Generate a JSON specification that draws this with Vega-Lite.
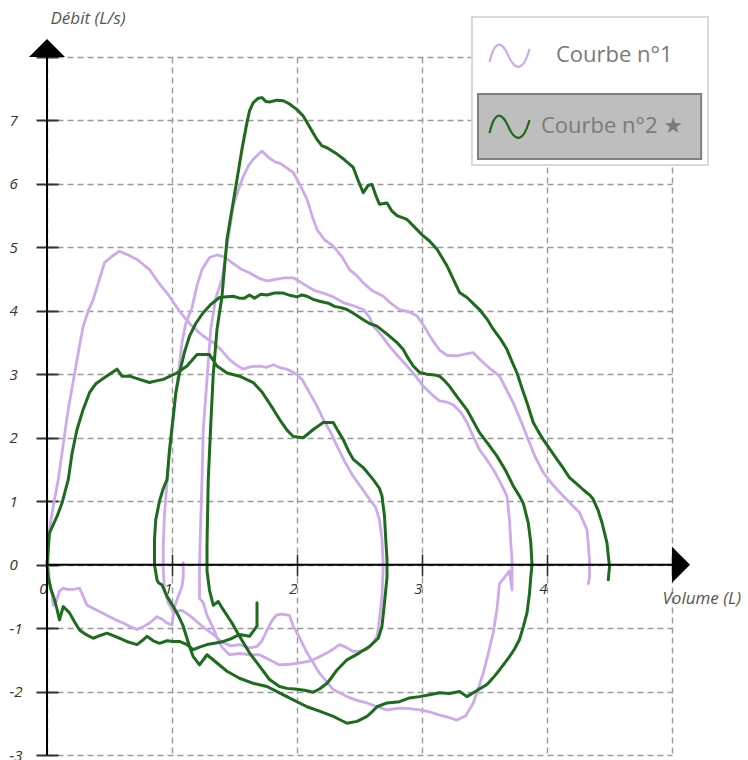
{
  "$schema": "https://vega.github.io/schema/vega-lite/v6.json",
  "width": 625,
  "height": 698,
  "autosize": {"type": "none"},
  "padding": {"left": 47, "top": 57, "right": 76, "bottom": 5},
  "background": "white",
  "config": {"view": {"stroke": null}, "legend": {"strokeWidth": 2}},
  "datasets": {
    "courbe1": [
      {"curve":"Courbe n°1","seg":"a","i":1,"volume":1.09,"debit":0.03},
      {"curve":"Courbe n°1","seg":"a","i":2,"volume":1.09,"debit":-0.2},
      {"curve":"Courbe n°1","seg":"a","i":3,"volume":1.08,"debit":-0.34},
      {"curve":"Courbe n°1","seg":"a","i":4,"volume":1.05,"debit":-0.5},
      {"curve":"Courbe n°1","seg":"a","i":5,"volume":1.02,"debit":-0.66},
      {"curve":"Courbe n°1","seg":"a","i":6,"volume":1.0,"debit":-0.95},
      {"curve":"Courbe n°1","seg":"a","i":7,"volume":0.96,"debit":-0.92},
      {"curve":"Courbe n°1","seg":"a","i":8,"volume":0.92,"debit":-0.86},
      {"curve":"Courbe n°1","seg":"a","i":9,"volume":0.88,"debit":-0.82},
      {"curve":"Courbe n°1","seg":"a","i":10,"volume":0.82,"debit":-0.92},
      {"curve":"Courbe n°1","seg":"a","i":11,"volume":0.77,"debit":-0.98},
      {"curve":"Courbe n°1","seg":"a","i":12,"volume":0.72,"debit":-1.02},
      {"curve":"Courbe n°1","seg":"a","i":13,"volume":0.66,"debit":-0.97},
      {"curve":"Courbe n°1","seg":"a","i":14,"volume":0.61,"debit":-0.92},
      {"curve":"Courbe n°1","seg":"a","i":15,"volume":0.55,"debit":-0.87},
      {"curve":"Courbe n°1","seg":"a","i":16,"volume":0.5,"debit":-0.82},
      {"curve":"Courbe n°1","seg":"a","i":17,"volume":0.45,"debit":-0.77},
      {"curve":"Courbe n°1","seg":"a","i":18,"volume":0.4,"debit":-0.72},
      {"curve":"Courbe n°1","seg":"a","i":19,"volume":0.32,"debit":-0.64},
      {"curve":"Courbe n°1","seg":"a","i":20,"volume":0.29,"debit":-0.5},
      {"curve":"Courbe n°1","seg":"a","i":21,"volume":0.26,"debit":-0.37},
      {"curve":"Courbe n°1","seg":"a","i":22,"volume":0.21,"debit":-0.39},
      {"curve":"Courbe n°1","seg":"a","i":23,"volume":0.16,"debit":-0.39},
      {"curve":"Courbe n°1","seg":"a","i":24,"volume":0.13,"debit":-0.37},
      {"curve":"Courbe n°1","seg":"a","i":25,"volume":0.1,"debit":-0.42},
      {"curve":"Courbe n°1","seg":"a","i":26,"volume":0.07,"debit":-0.6},
      {"curve":"Courbe n°1","seg":"a","i":27,"volume":0.05,"debit":-0.64},
      {"curve":"Courbe n°1","seg":"a","i":28,"volume":0.04,"debit":-0.45},
      {"curve":"Courbe n°1","seg":"a","i":29,"volume":0.02,"debit":-0.25},
      {"curve":"Courbe n°1","seg":"a","i":30,"volume":0.01,"debit":0.0},
      {"curve":"Courbe n°1","seg":"a","i":31,"volume":0.01,"debit":0.45},
      {"curve":"Courbe n°1","seg":"a","i":32,"volume":0.05,"debit":0.92},
      {"curve":"Courbe n°1","seg":"a","i":33,"volume":0.09,"debit":1.34},
      {"curve":"Courbe n°1","seg":"a","i":34,"volume":0.13,"debit":1.9},
      {"curve":"Courbe n°1","seg":"a","i":35,"volume":0.17,"debit":2.45},
      {"curve":"Courbe n°1","seg":"a","i":36,"volume":0.22,"debit":3.0},
      {"curve":"Courbe n°1","seg":"a","i":37,"volume":0.26,"debit":3.45},
      {"curve":"Courbe n°1","seg":"a","i":38,"volume":0.29,"debit":3.76},
      {"curve":"Courbe n°1","seg":"a","i":39,"volume":0.33,"debit":4.0},
      {"curve":"Courbe n°1","seg":"a","i":40,"volume":0.37,"debit":4.18},
      {"curve":"Courbe n°1","seg":"a","i":41,"volume":0.42,"debit":4.5},
      {"curve":"Courbe n°1","seg":"a","i":42,"volume":0.46,"debit":4.76},
      {"curve":"Courbe n°1","seg":"a","i":43,"volume":0.52,"debit":4.86},
      {"curve":"Courbe n°1","seg":"a","i":44,"volume":0.58,"debit":4.94},
      {"curve":"Courbe n°1","seg":"a","i":45,"volume":0.65,"debit":4.88},
      {"curve":"Courbe n°1","seg":"a","i":46,"volume":0.72,"debit":4.81},
      {"curve":"Courbe n°1","seg":"a","i":47,"volume":0.77,"debit":4.73},
      {"curve":"Courbe n°1","seg":"a","i":48,"volume":0.82,"debit":4.65},
      {"curve":"Courbe n°1","seg":"a","i":49,"volume":0.89,"debit":4.45},
      {"curve":"Courbe n°1","seg":"a","i":50,"volume":0.96,"debit":4.28},
      {"curve":"Courbe n°1","seg":"a","i":51,"volume":1.03,"debit":4.08},
      {"curve":"Courbe n°1","seg":"a","i":52,"volume":1.09,"debit":3.92},
      {"curve":"Courbe n°1","seg":"a","i":53,"volume":1.15,"debit":3.78},
      {"curve":"Courbe n°1","seg":"a","i":54,"volume":1.22,"debit":3.65},
      {"curve":"Courbe n°1","seg":"a","i":55,"volume":1.28,"debit":3.56},
      {"curve":"Courbe n°1","seg":"a","i":56,"volume":1.33,"debit":3.5},
      {"curve":"Courbe n°1","seg":"a","i":57,"volume":1.4,"debit":3.37},
      {"curve":"Courbe n°1","seg":"a","i":58,"volume":1.46,"debit":3.23},
      {"curve":"Courbe n°1","seg":"a","i":59,"volume":1.52,"debit":3.14},
      {"curve":"Courbe n°1","seg":"a","i":60,"volume":1.57,"debit":3.08},
      {"curve":"Courbe n°1","seg":"a","i":61,"volume":1.63,"debit":3.12},
      {"curve":"Courbe n°1","seg":"a","i":62,"volume":1.7,"debit":3.13},
      {"curve":"Courbe n°1","seg":"a","i":63,"volume":1.76,"debit":3.11},
      {"curve":"Courbe n°1","seg":"a","i":64,"volume":1.81,"debit":3.15},
      {"curve":"Courbe n°1","seg":"a","i":65,"volume":1.87,"debit":3.1},
      {"curve":"Courbe n°1","seg":"a","i":66,"volume":1.92,"debit":3.08},
      {"curve":"Courbe n°1","seg":"a","i":67,"volume":1.98,"debit":3.02},
      {"curve":"Courbe n°1","seg":"a","i":68,"volume":2.04,"debit":2.92},
      {"curve":"Courbe n°1","seg":"a","i":69,"volume":2.1,"debit":2.71},
      {"curve":"Courbe n°1","seg":"a","i":70,"volume":2.16,"debit":2.5},
      {"curve":"Courbe n°1","seg":"a","i":71,"volume":2.21,"debit":2.29},
      {"curve":"Courbe n°1","seg":"a","i":72,"volume":2.27,"debit":2.08},
      {"curve":"Courbe n°1","seg":"a","i":73,"volume":2.32,"debit":1.87},
      {"curve":"Courbe n°1","seg":"a","i":74,"volume":2.38,"debit":1.63},
      {"curve":"Courbe n°1","seg":"a","i":75,"volume":2.45,"debit":1.39},
      {"curve":"Courbe n°1","seg":"a","i":76,"volume":2.52,"debit":1.2},
      {"curve":"Courbe n°1","seg":"a","i":77,"volume":2.58,"debit":1.03},
      {"curve":"Courbe n°1","seg":"a","i":78,"volume":2.63,"debit":0.9},
      {"curve":"Courbe n°1","seg":"a","i":79,"volume":2.66,"debit":0.7},
      {"curve":"Courbe n°1","seg":"a","i":80,"volume":2.68,"debit":0.4},
      {"curve":"Courbe n°1","seg":"a","i":81,"volume":2.69,"debit":0.0},
      {"curve":"Courbe n°1","seg":"a","i":82,"volume":2.68,"debit":-0.5},
      {"curve":"Courbe n°1","seg":"a","i":83,"volume":2.66,"debit":-0.85},
      {"curve":"Courbe n°1","seg":"a","i":84,"volume":2.64,"debit":-1.13},
      {"curve":"Courbe n°1","seg":"a","i":85,"volume":2.6,"debit":-1.25},
      {"curve":"Courbe n°1","seg":"a","i":86,"volume":2.56,"debit":-1.34},
      {"curve":"Courbe n°1","seg":"a","i":87,"volume":2.5,"debit":-1.36},
      {"curve":"Courbe n°1","seg":"a","i":88,"volume":2.45,"debit":-1.37},
      {"curve":"Courbe n°1","seg":"a","i":89,"volume":2.39,"debit":-1.3},
      {"curve":"Courbe n°1","seg":"a","i":90,"volume":2.34,"debit":-1.26},
      {"curve":"Courbe n°1","seg":"a","i":91,"volume":2.29,"debit":-1.33},
      {"curve":"Courbe n°1","seg":"a","i":92,"volume":2.24,"debit":-1.39},
      {"curve":"Courbe n°1","seg":"a","i":93,"volume":2.18,"debit":-1.45},
      {"curve":"Courbe n°1","seg":"a","i":94,"volume":2.13,"debit":-1.5},
      {"curve":"Courbe n°1","seg":"a","i":95,"volume":2.08,"debit":-1.53},
      {"curve":"Courbe n°1","seg":"a","i":96,"volume":2.02,"debit":-1.55},
      {"curve":"Courbe n°1","seg":"a","i":97,"volume":1.94,"debit":-1.57},
      {"curve":"Courbe n°1","seg":"a","i":98,"volume":1.86,"debit":-1.58},
      {"curve":"Courbe n°1","seg":"a","i":99,"volume":1.78,"debit":-1.5},
      {"curve":"Courbe n°1","seg":"a","i":100,"volume":1.7,"debit":-1.42},
      {"curve":"Courbe n°1","seg":"a","i":101,"volume":1.62,"debit":-1.42},
      {"curve":"Courbe n°1","seg":"a","i":102,"volume":1.54,"debit":-1.4},
      {"curve":"Courbe n°1","seg":"a","i":103,"volume":1.46,"debit":-1.42},
      {"curve":"Courbe n°1","seg":"a","i":104,"volume":1.4,"debit":-1.3},
      {"curve":"Courbe n°1","seg":"a","i":105,"volume":1.36,"debit":-1.15},
      {"curve":"Courbe n°1","seg":"a","i":106,"volume":1.33,"debit":-1.0},
      {"curve":"Courbe n°1","seg":"a","i":107,"volume":1.28,"debit":-0.8},
      {"curve":"Courbe n°1","seg":"a","i":108,"volume":1.25,"debit":-0.6},
      {"curve":"Courbe n°1","seg":"a","i":109,"volume":1.22,"debit":-0.53},
      {"curve":"Courbe n°1","seg":"a","i":110,"volume":1.22,"debit":0.0},
      {"curve":"Courbe n°1","seg":"a","i":111,"volume":1.23,"debit":0.7},
      {"curve":"Courbe n°1","seg":"a","i":112,"volume":1.24,"debit":1.34},
      {"curve":"Courbe n°1","seg":"a","i":113,"volume":1.25,"debit":2.13},
      {"curve":"Courbe n°1","seg":"a","i":114,"volume":1.28,"debit":2.92},
      {"curve":"Courbe n°1","seg":"a","i":115,"volume":1.31,"debit":3.71},
      {"curve":"Courbe n°1","seg":"a","i":116,"volume":1.35,"debit":4.2},
      {"curve":"Courbe n°1","seg":"a","i":117,"volume":1.4,"debit":4.5},
      {"curve":"Courbe n°1","seg":"a","i":118,"volume":1.44,"debit":5.02},
      {"curve":"Courbe n°1","seg":"a","i":119,"volume":1.49,"debit":5.65},
      {"curve":"Courbe n°1","seg":"a","i":120,"volume":1.53,"debit":5.9},
      {"curve":"Courbe n°1","seg":"a","i":121,"volume":1.57,"debit":6.12},
      {"curve":"Courbe n°1","seg":"a","i":122,"volume":1.61,"debit":6.28},
      {"curve":"Courbe n°1","seg":"a","i":123,"volume":1.65,"debit":6.39},
      {"curve":"Courbe n°1","seg":"a","i":124,"volume":1.72,"debit":6.52},
      {"curve":"Courbe n°1","seg":"a","i":125,"volume":1.77,"debit":6.42},
      {"curve":"Courbe n°1","seg":"a","i":126,"volume":1.82,"debit":6.35},
      {"curve":"Courbe n°1","seg":"a","i":127,"volume":1.87,"debit":6.32},
      {"curve":"Courbe n°1","seg":"a","i":128,"volume":1.92,"debit":6.25},
      {"curve":"Courbe n°1","seg":"a","i":129,"volume":1.97,"debit":6.18},
      {"curve":"Courbe n°1","seg":"a","i":130,"volume":2.02,"debit":6.0},
      {"curve":"Courbe n°1","seg":"a","i":131,"volume":2.08,"debit":5.76},
      {"curve":"Courbe n°1","seg":"a","i":132,"volume":2.12,"debit":5.5},
      {"curve":"Courbe n°1","seg":"a","i":133,"volume":2.16,"debit":5.28},
      {"curve":"Courbe n°1","seg":"a","i":134,"volume":2.22,"debit":5.12},
      {"curve":"Courbe n°1","seg":"a","i":135,"volume":2.29,"debit":5.02},
      {"curve":"Courbe n°1","seg":"a","i":136,"volume":2.36,"debit":4.85},
      {"curve":"Courbe n°1","seg":"a","i":137,"volume":2.42,"debit":4.65},
      {"curve":"Courbe n°1","seg":"a","i":138,"volume":2.48,"debit":4.55},
      {"curve":"Courbe n°1","seg":"a","i":139,"volume":2.53,"debit":4.44},
      {"curve":"Courbe n°1","seg":"a","i":140,"volume":2.6,"debit":4.32},
      {"curve":"Courbe n°1","seg":"a","i":141,"volume":2.69,"debit":4.23},
      {"curve":"Courbe n°1","seg":"a","i":142,"volume":2.75,"debit":4.12},
      {"curve":"Courbe n°1","seg":"a","i":143,"volume":2.82,"debit":4.02},
      {"curve":"Courbe n°1","seg":"a","i":144,"volume":2.9,"debit":3.98},
      {"curve":"Courbe n°1","seg":"a","i":145,"volume":2.96,"debit":3.92},
      {"curve":"Courbe n°1","seg":"a","i":146,"volume":3.02,"debit":3.75},
      {"curve":"Courbe n°1","seg":"a","i":147,"volume":3.08,"debit":3.55},
      {"curve":"Courbe n°1","seg":"a","i":148,"volume":3.14,"debit":3.38},
      {"curve":"Courbe n°1","seg":"a","i":149,"volume":3.2,"debit":3.3},
      {"curve":"Courbe n°1","seg":"a","i":150,"volume":3.28,"debit":3.29},
      {"curve":"Courbe n°1","seg":"a","i":151,"volume":3.35,"debit":3.32},
      {"curve":"Courbe n°1","seg":"a","i":152,"volume":3.41,"debit":3.34},
      {"curve":"Courbe n°1","seg":"a","i":153,"volume":3.47,"debit":3.22},
      {"curve":"Courbe n°1","seg":"a","i":154,"volume":3.52,"debit":3.13},
      {"curve":"Courbe n°1","seg":"a","i":155,"volume":3.57,"debit":3.05},
      {"curve":"Courbe n°1","seg":"a","i":156,"volume":3.62,"debit":2.97},
      {"curve":"Courbe n°1","seg":"a","i":157,"volume":3.67,"debit":2.78},
      {"curve":"Courbe n°1","seg":"a","i":158,"volume":3.73,"debit":2.55},
      {"curve":"Courbe n°1","seg":"a","i":159,"volume":3.79,"debit":2.27},
      {"curve":"Courbe n°1","seg":"a","i":160,"volume":3.84,"debit":2.02},
      {"curve":"Courbe n°1","seg":"a","i":161,"volume":3.9,"debit":1.72},
      {"curve":"Courbe n°1","seg":"a","i":162,"volume":3.97,"debit":1.45},
      {"curve":"Courbe n°1","seg":"a","i":163,"volume":4.05,"debit":1.25},
      {"curve":"Courbe n°1","seg":"a","i":164,"volume":4.13,"debit":1.08},
      {"curve":"Courbe n°1","seg":"a","i":165,"volume":4.2,"debit":0.94},
      {"curve":"Courbe n°1","seg":"a","i":166,"volume":4.26,"debit":0.82},
      {"curve":"Courbe n°1","seg":"a","i":167,"volume":4.32,"debit":0.55},
      {"curve":"Courbe n°1","seg":"a","i":168,"volume":4.34,"debit":0.08},
      {"curve":"Courbe n°1","seg":"a","i":169,"volume":4.34,"debit":-0.2},
      {"curve":"Courbe n°1","seg":"a","i":170,"volume":4.33,"debit":-0.3},
      {"curve":"Courbe n°1","seg":"b","i":1,"volume":0.94,"debit":-0.4},
      {"curve":"Courbe n°1","seg":"b","i":2,"volume":0.93,"debit":-0.1},
      {"curve":"Courbe n°1","seg":"b","i":3,"volume":0.93,"debit":0.3},
      {"curve":"Courbe n°1","seg":"b","i":4,"volume":0.94,"debit":0.8},
      {"curve":"Courbe n°1","seg":"b","i":5,"volume":0.96,"debit":1.3},
      {"curve":"Courbe n°1","seg":"b","i":6,"volume":0.98,"debit":1.8},
      {"curve":"Courbe n°1","seg":"b","i":7,"volume":1.01,"debit":2.3},
      {"curve":"Courbe n°1","seg":"b","i":8,"volume":1.03,"debit":2.7},
      {"curve":"Courbe n°1","seg":"b","i":9,"volume":1.05,"debit":3.0},
      {"curve":"Courbe n°1","seg":"b","i":10,"volume":1.08,"debit":3.5},
      {"curve":"Courbe n°1","seg":"b","i":11,"volume":1.11,"debit":3.8},
      {"curve":"Courbe n°1","seg":"b","i":12,"volume":1.16,"debit":4.05},
      {"curve":"Courbe n°1","seg":"b","i":13,"volume":1.2,"debit":4.4},
      {"curve":"Courbe n°1","seg":"b","i":14,"volume":1.24,"debit":4.65},
      {"curve":"Courbe n°1","seg":"b","i":15,"volume":1.3,"debit":4.84},
      {"curve":"Courbe n°1","seg":"b","i":16,"volume":1.36,"debit":4.88},
      {"curve":"Courbe n°1","seg":"b","i":17,"volume":1.42,"debit":4.85},
      {"curve":"Courbe n°1","seg":"b","i":18,"volume":1.48,"debit":4.76},
      {"curve":"Courbe n°1","seg":"b","i":19,"volume":1.55,"debit":4.66},
      {"curve":"Courbe n°1","seg":"b","i":20,"volume":1.62,"debit":4.6},
      {"curve":"Courbe n°1","seg":"b","i":21,"volume":1.69,"debit":4.52},
      {"curve":"Courbe n°1","seg":"b","i":22,"volume":1.76,"debit":4.47},
      {"curve":"Courbe n°1","seg":"b","i":23,"volume":1.84,"debit":4.5},
      {"curve":"Courbe n°1","seg":"b","i":24,"volume":1.9,"debit":4.52},
      {"curve":"Courbe n°1","seg":"b","i":25,"volume":1.97,"debit":4.52},
      {"curve":"Courbe n°1","seg":"b","i":26,"volume":2.03,"debit":4.45},
      {"curve":"Courbe n°1","seg":"b","i":27,"volume":2.08,"debit":4.39},
      {"curve":"Courbe n°1","seg":"b","i":28,"volume":2.14,"debit":4.32},
      {"curve":"Courbe n°1","seg":"b","i":29,"volume":2.21,"debit":4.28},
      {"curve":"Courbe n°1","seg":"b","i":30,"volume":2.29,"debit":4.22},
      {"curve":"Courbe n°1","seg":"b","i":31,"volume":2.37,"debit":4.13},
      {"curve":"Courbe n°1","seg":"b","i":32,"volume":2.45,"debit":4.08},
      {"curve":"Courbe n°1","seg":"b","i":33,"volume":2.53,"debit":4.02},
      {"curve":"Courbe n°1","seg":"b","i":34,"volume":2.58,"debit":3.9},
      {"curve":"Courbe n°1","seg":"b","i":35,"volume":2.61,"debit":3.76},
      {"curve":"Courbe n°1","seg":"b","i":36,"volume":2.68,"debit":3.6},
      {"curve":"Courbe n°1","seg":"b","i":37,"volume":2.74,"debit":3.44},
      {"curve":"Courbe n°1","seg":"b","i":38,"volume":2.81,"debit":3.28},
      {"curve":"Courbe n°1","seg":"b","i":39,"volume":2.88,"debit":3.13},
      {"curve":"Courbe n°1","seg":"b","i":40,"volume":2.95,"debit":2.97},
      {"curve":"Courbe n°1","seg":"b","i":41,"volume":3.01,"debit":2.81},
      {"curve":"Courbe n°1","seg":"b","i":42,"volume":3.08,"debit":2.68},
      {"curve":"Courbe n°1","seg":"b","i":43,"volume":3.14,"debit":2.58},
      {"curve":"Courbe n°1","seg":"b","i":44,"volume":3.2,"debit":2.56},
      {"curve":"Courbe n°1","seg":"b","i":45,"volume":3.25,"debit":2.52},
      {"curve":"Courbe n°1","seg":"b","i":46,"volume":3.31,"debit":2.4},
      {"curve":"Courbe n°1","seg":"b","i":47,"volume":3.36,"debit":2.24},
      {"curve":"Courbe n°1","seg":"b","i":48,"volume":3.41,"debit":2.02},
      {"curve":"Courbe n°1","seg":"b","i":49,"volume":3.46,"debit":1.81},
      {"curve":"Courbe n°1","seg":"b","i":50,"volume":3.52,"debit":1.65},
      {"curve":"Courbe n°1","seg":"b","i":51,"volume":3.57,"debit":1.5},
      {"curve":"Courbe n°1","seg":"b","i":52,"volume":3.63,"debit":1.28},
      {"curve":"Courbe n°1","seg":"b","i":53,"volume":3.68,"debit":1.08},
      {"curve":"Courbe n°1","seg":"b","i":54,"volume":3.7,"debit":0.71},
      {"curve":"Courbe n°1","seg":"b","i":55,"volume":3.71,"debit":0.35},
      {"curve":"Courbe n°1","seg":"b","i":56,"volume":3.72,"debit":0.08},
      {"curve":"Courbe n°1","seg":"b","i":57,"volume":3.72,"debit":-0.4},
      {"curve":"Courbe n°1","seg":"b","i":58,"volume":3.7,"debit":-0.1},
      {"curve":"Courbe n°1","seg":"b","i":59,"volume":3.66,"debit":-0.2},
      {"curve":"Courbe n°1","seg":"b","i":60,"volume":3.62,"debit":-0.3},
      {"curve":"Courbe n°1","seg":"b","i":61,"volume":3.6,"debit":-0.7},
      {"curve":"Courbe n°1","seg":"b","i":62,"volume":3.57,"debit":-1.07},
      {"curve":"Courbe n°1","seg":"b","i":63,"volume":3.53,"debit":-1.4},
      {"curve":"Courbe n°1","seg":"b","i":64,"volume":3.49,"debit":-1.71},
      {"curve":"Courbe n°1","seg":"b","i":65,"volume":3.45,"debit":-1.95},
      {"curve":"Courbe n°1","seg":"b","i":66,"volume":3.41,"debit":-2.18},
      {"curve":"Courbe n°1","seg":"b","i":67,"volume":3.35,"debit":-2.38},
      {"curve":"Courbe n°1","seg":"b","i":68,"volume":3.28,"debit":-2.45},
      {"curve":"Courbe n°1","seg":"b","i":69,"volume":3.2,"debit":-2.4},
      {"curve":"Courbe n°1","seg":"b","i":70,"volume":3.14,"debit":-2.37},
      {"curve":"Courbe n°1","seg":"b","i":71,"volume":3.06,"debit":-2.32},
      {"curve":"Courbe n°1","seg":"b","i":72,"volume":2.98,"debit":-2.29},
      {"curve":"Courbe n°1","seg":"b","i":73,"volume":2.9,"debit":-2.27},
      {"curve":"Courbe n°1","seg":"b","i":74,"volume":2.82,"debit":-2.26},
      {"curve":"Courbe n°1","seg":"b","i":75,"volume":2.72,"debit":-2.29},
      {"curve":"Courbe n°1","seg":"b","i":76,"volume":2.64,"debit":-2.24},
      {"curve":"Courbe n°1","seg":"b","i":77,"volume":2.56,"debit":-2.18},
      {"curve":"Courbe n°1","seg":"b","i":78,"volume":2.48,"debit":-2.14},
      {"curve":"Courbe n°1","seg":"b","i":79,"volume":2.4,"debit":-2.08},
      {"curve":"Courbe n°1","seg":"b","i":80,"volume":2.34,"debit":-2.02},
      {"curve":"Courbe n°1","seg":"b","i":81,"volume":2.29,"debit":-1.97},
      {"curve":"Courbe n°1","seg":"b","i":82,"volume":2.24,"debit":-1.85},
      {"curve":"Courbe n°1","seg":"b","i":83,"volume":2.18,"debit":-1.71},
      {"curve":"Courbe n°1","seg":"b","i":84,"volume":2.13,"debit":-1.55},
      {"curve":"Courbe n°1","seg":"b","i":85,"volume":2.08,"debit":-1.39},
      {"curve":"Courbe n°1","seg":"b","i":86,"volume":2.02,"debit":-1.15},
      {"curve":"Courbe n°1","seg":"b","i":87,"volume":1.97,"debit":-0.97},
      {"curve":"Courbe n°1","seg":"b","i":88,"volume":1.94,"debit":-0.8},
      {"curve":"Courbe n°1","seg":"b","i":89,"volume":1.88,"debit":-0.78},
      {"curve":"Courbe n°1","seg":"b","i":90,"volume":1.84,"debit":-0.79},
      {"curve":"Courbe n°1","seg":"b","i":91,"volume":1.8,"debit":-0.88},
      {"curve":"Courbe n°1","seg":"b","i":92,"volume":1.76,"debit":-1.03},
      {"curve":"Courbe n°1","seg":"b","i":93,"volume":1.72,"debit":-1.2},
      {"curve":"Courbe n°1","seg":"b","i":94,"volume":1.68,"debit":-1.29},
      {"curve":"Courbe n°1","seg":"b","i":95,"volume":1.62,"debit":-1.31},
      {"curve":"Courbe n°1","seg":"b","i":96,"volume":1.54,"debit":-1.26},
      {"curve":"Courbe n°1","seg":"b","i":97,"volume":1.47,"debit":-1.28},
      {"curve":"Courbe n°1","seg":"b","i":98,"volume":1.4,"debit":-1.22},
      {"curve":"Courbe n°1","seg":"b","i":99,"volume":1.33,"debit":-1.1},
      {"curve":"Courbe n°1","seg":"b","i":100,"volume":1.26,"debit":-1.0},
      {"curve":"Courbe n°1","seg":"b","i":101,"volume":1.2,"debit":-0.9},
      {"curve":"Courbe n°1","seg":"b","i":102,"volume":1.14,"debit":-0.8},
      {"curve":"Courbe n°1","seg":"b","i":103,"volume":1.08,"debit":-0.72},
      {"curve":"Courbe n°1","seg":"b","i":104,"volume":1.01,"debit":-0.74},
      {"curve":"Courbe n°1","seg":"b","i":105,"volume":0.97,"debit":-0.6},
      {"curve":"Courbe n°1","seg":"b","i":106,"volume":0.94,"debit":-0.4}
    ],
    "courbe2": [
      {"curve":"Courbe n°2","seg":"a","i":1,"volume":1.68,"debit":-0.6},
      {"curve":"Courbe n°2","seg":"a","i":2,"volume":1.68,"debit":-0.8},
      {"curve":"Courbe n°2","seg":"a","i":3,"volume":1.68,"debit":-0.97},
      {"curve":"Courbe n°2","seg":"a","i":4,"volume":1.62,"debit":-1.13},
      {"curve":"Courbe n°2","seg":"a","i":5,"volume":1.54,"debit":-1.1},
      {"curve":"Courbe n°2","seg":"a","i":6,"volume":1.47,"debit":-1.17},
      {"curve":"Courbe n°2","seg":"a","i":7,"volume":1.41,"debit":-1.21},
      {"curve":"Courbe n°2","seg":"a","i":8,"volume":1.34,"debit":-1.24},
      {"curve":"Courbe n°2","seg":"a","i":9,"volume":1.28,"debit":-1.26},
      {"curve":"Courbe n°2","seg":"a","i":10,"volume":1.22,"debit":-1.3},
      {"curve":"Courbe n°2","seg":"a","i":11,"volume":1.17,"debit":-1.34},
      {"curve":"Courbe n°2","seg":"a","i":12,"volume":1.12,"debit":-1.26},
      {"curve":"Courbe n°2","seg":"a","i":13,"volume":1.06,"debit":-1.21},
      {"curve":"Courbe n°2","seg":"a","i":14,"volume":1.01,"debit":-1.21},
      {"curve":"Courbe n°2","seg":"a","i":15,"volume":0.96,"debit":-1.2},
      {"curve":"Courbe n°2","seg":"a","i":16,"volume":0.9,"debit":-1.24},
      {"curve":"Courbe n°2","seg":"a","i":17,"volume":0.85,"debit":-1.2},
      {"curve":"Courbe n°2","seg":"a","i":18,"volume":0.8,"debit":-1.13},
      {"curve":"Courbe n°2","seg":"a","i":19,"volume":0.76,"debit":-1.2},
      {"curve":"Courbe n°2","seg":"a","i":20,"volume":0.72,"debit":-1.26},
      {"curve":"Courbe n°2","seg":"a","i":21,"volume":0.65,"debit":-1.22},
      {"curve":"Courbe n°2","seg":"a","i":22,"volume":0.58,"debit":-1.16},
      {"curve":"Courbe n°2","seg":"a","i":23,"volume":0.53,"debit":-1.12},
      {"curve":"Courbe n°2","seg":"a","i":24,"volume":0.48,"debit":-1.08},
      {"curve":"Courbe n°2","seg":"a","i":25,"volume":0.42,"debit":-1.12},
      {"curve":"Courbe n°2","seg":"a","i":26,"volume":0.37,"debit":-1.16},
      {"curve":"Courbe n°2","seg":"a","i":27,"volume":0.31,"debit":-1.1},
      {"curve":"Courbe n°2","seg":"a","i":28,"volume":0.26,"debit":-1.03},
      {"curve":"Courbe n°2","seg":"a","i":29,"volume":0.22,"debit":-0.9},
      {"curve":"Courbe n°2","seg":"a","i":30,"volume":0.18,"debit":-0.76},
      {"curve":"Courbe n°2","seg":"a","i":31,"volume":0.13,"debit":-0.66},
      {"curve":"Courbe n°2","seg":"a","i":32,"volume":0.1,"debit":-0.87},
      {"curve":"Courbe n°2","seg":"a","i":33,"volume":0.08,"debit":-0.7},
      {"curve":"Courbe n°2","seg":"a","i":34,"volume":0.06,"debit":-0.55},
      {"curve":"Courbe n°2","seg":"a","i":35,"volume":0.03,"debit":-0.38},
      {"curve":"Courbe n°2","seg":"a","i":36,"volume":0.01,"debit":-0.2},
      {"curve":"Courbe n°2","seg":"a","i":37,"volume":0.0,"debit":0.0},
      {"curve":"Courbe n°2","seg":"a","i":38,"volume":0.02,"debit":0.5},
      {"curve":"Courbe n°2","seg":"a","i":39,"volume":0.08,"debit":0.76},
      {"curve":"Courbe n°2","seg":"a","i":40,"volume":0.12,"debit":0.97},
      {"curve":"Courbe n°2","seg":"a","i":41,"volume":0.17,"debit":1.34},
      {"curve":"Courbe n°2","seg":"a","i":42,"volume":0.2,"debit":1.75},
      {"curve":"Courbe n°2","seg":"a","i":43,"volume":0.24,"debit":2.13},
      {"curve":"Courbe n°2","seg":"a","i":44,"volume":0.29,"debit":2.45},
      {"curve":"Courbe n°2","seg":"a","i":45,"volume":0.34,"debit":2.71},
      {"curve":"Courbe n°2","seg":"a","i":46,"volume":0.39,"debit":2.85},
      {"curve":"Courbe n°2","seg":"a","i":47,"volume":0.44,"debit":2.92},
      {"curve":"Courbe n°2","seg":"a","i":48,"volume":0.5,"debit":3.0},
      {"curve":"Courbe n°2","seg":"a","i":49,"volume":0.56,"debit":3.08},
      {"curve":"Courbe n°2","seg":"a","i":50,"volume":0.6,"debit":2.97},
      {"curve":"Courbe n°2","seg":"a","i":51,"volume":0.66,"debit":2.97},
      {"curve":"Courbe n°2","seg":"a","i":52,"volume":0.74,"debit":2.92},
      {"curve":"Courbe n°2","seg":"a","i":53,"volume":0.82,"debit":2.87},
      {"curve":"Courbe n°2","seg":"a","i":54,"volume":0.88,"debit":2.9},
      {"curve":"Courbe n°2","seg":"a","i":55,"volume":0.93,"debit":2.92},
      {"curve":"Courbe n°2","seg":"a","i":56,"volume":1.04,"debit":3.02},
      {"curve":"Courbe n°2","seg":"a","i":57,"volume":1.12,"debit":3.13},
      {"curve":"Courbe n°2","seg":"a","i":58,"volume":1.2,"debit":3.31},
      {"curve":"Courbe n°2","seg":"a","i":59,"volume":1.3,"debit":3.31},
      {"curve":"Courbe n°2","seg":"a","i":60,"volume":1.36,"debit":3.13},
      {"curve":"Courbe n°2","seg":"a","i":61,"volume":1.44,"debit":3.02},
      {"curve":"Courbe n°2","seg":"a","i":62,"volume":1.54,"debit":2.97},
      {"curve":"Courbe n°2","seg":"a","i":63,"volume":1.65,"debit":2.87},
      {"curve":"Courbe n°2","seg":"a","i":64,"volume":1.72,"debit":2.72},
      {"curve":"Courbe n°2","seg":"a","i":65,"volume":1.76,"debit":2.6},
      {"curve":"Courbe n°2","seg":"a","i":66,"volume":1.81,"debit":2.45},
      {"curve":"Courbe n°2","seg":"a","i":67,"volume":1.86,"debit":2.29},
      {"curve":"Courbe n°2","seg":"a","i":68,"volume":1.92,"debit":2.12},
      {"curve":"Courbe n°2","seg":"a","i":69,"volume":1.97,"debit":2.02},
      {"curve":"Courbe n°2","seg":"a","i":70,"volume":2.05,"debit":2.0},
      {"curve":"Courbe n°2","seg":"a","i":71,"volume":2.13,"debit":2.13},
      {"curve":"Courbe n°2","seg":"a","i":72,"volume":2.21,"debit":2.24},
      {"curve":"Courbe n°2","seg":"a","i":73,"volume":2.29,"debit":2.24},
      {"curve":"Courbe n°2","seg":"a","i":74,"volume":2.33,"debit":2.1},
      {"curve":"Courbe n°2","seg":"a","i":75,"volume":2.37,"debit":1.97},
      {"curve":"Courbe n°2","seg":"a","i":76,"volume":2.41,"debit":1.8},
      {"curve":"Courbe n°2","seg":"a","i":77,"volume":2.45,"debit":1.66},
      {"curve":"Courbe n°2","seg":"a","i":78,"volume":2.53,"debit":1.53},
      {"curve":"Courbe n°2","seg":"a","i":79,"volume":2.61,"debit":1.34},
      {"curve":"Courbe n°2","seg":"a","i":80,"volume":2.66,"debit":1.2},
      {"curve":"Courbe n°2","seg":"a","i":81,"volume":2.68,"debit":1.08},
      {"curve":"Courbe n°2","seg":"a","i":82,"volume":2.7,"debit":0.76},
      {"curve":"Courbe n°2","seg":"a","i":83,"volume":2.71,"debit":0.4},
      {"curve":"Courbe n°2","seg":"a","i":84,"volume":2.72,"debit":0.08},
      {"curve":"Courbe n°2","seg":"a","i":85,"volume":2.72,"debit":-0.2},
      {"curve":"Courbe n°2","seg":"a","i":86,"volume":2.7,"debit":-0.6},
      {"curve":"Courbe n°2","seg":"a","i":87,"volume":2.68,"debit":-0.97},
      {"curve":"Courbe n°2","seg":"a","i":88,"volume":2.65,"debit":-1.16},
      {"curve":"Courbe n°2","seg":"a","i":89,"volume":2.58,"debit":-1.29},
      {"curve":"Courbe n°2","seg":"a","i":90,"volume":2.5,"debit":-1.39},
      {"curve":"Courbe n°2","seg":"a","i":91,"volume":2.4,"debit":-1.5},
      {"curve":"Courbe n°2","seg":"a","i":92,"volume":2.32,"debit":-1.66},
      {"curve":"Courbe n°2","seg":"a","i":93,"volume":2.28,"debit":-1.77},
      {"curve":"Courbe n°2","seg":"a","i":94,"volume":2.24,"debit":-1.87},
      {"curve":"Courbe n°2","seg":"a","i":95,"volume":2.18,"debit":-1.96},
      {"curve":"Courbe n°2","seg":"a","i":96,"volume":2.13,"debit":-2.01},
      {"curve":"Courbe n°2","seg":"a","i":97,"volume":2.06,"debit":-1.98},
      {"curve":"Courbe n°2","seg":"a","i":98,"volume":1.98,"debit":-1.96},
      {"curve":"Courbe n°2","seg":"a","i":99,"volume":1.92,"debit":-1.95},
      {"curve":"Courbe n°2","seg":"a","i":100,"volume":1.86,"debit":-1.92},
      {"curve":"Courbe n°2","seg":"a","i":101,"volume":1.78,"debit":-1.81},
      {"curve":"Courbe n°2","seg":"a","i":102,"volume":1.7,"debit":-1.6},
      {"curve":"Courbe n°2","seg":"a","i":103,"volume":1.62,"debit":-1.39},
      {"curve":"Courbe n°2","seg":"a","i":104,"volume":1.54,"debit":-1.13},
      {"curve":"Courbe n°2","seg":"a","i":105,"volume":1.48,"debit":-0.92},
      {"curve":"Courbe n°2","seg":"a","i":106,"volume":1.41,"debit":-0.71},
      {"curve":"Courbe n°2","seg":"a","i":107,"volume":1.37,"debit":-0.58},
      {"curve":"Courbe n°2","seg":"a","i":108,"volume":1.33,"debit":-0.64},
      {"curve":"Courbe n°2","seg":"a","i":109,"volume":1.3,"debit":-0.4},
      {"curve":"Courbe n°2","seg":"a","i":110,"volume":1.28,"debit":-0.1},
      {"curve":"Courbe n°2","seg":"a","i":111,"volume":1.28,"debit":0.3},
      {"curve":"Courbe n°2","seg":"a","i":112,"volume":1.29,"debit":1.34},
      {"curve":"Courbe n°2","seg":"a","i":113,"volume":1.31,"debit":2.2},
      {"curve":"Courbe n°2","seg":"a","i":114,"volume":1.33,"debit":3.0},
      {"curve":"Courbe n°2","seg":"a","i":115,"volume":1.36,"debit":3.71},
      {"curve":"Courbe n°2","seg":"a","i":116,"volume":1.4,"debit":4.23},
      {"curve":"Courbe n°2","seg":"a","i":117,"volume":1.44,"debit":5.13},
      {"curve":"Courbe n°2","seg":"a","i":118,"volume":1.48,"debit":5.6},
      {"curve":"Courbe n°2","seg":"a","i":119,"volume":1.52,"debit":6.07},
      {"curve":"Courbe n°2","seg":"a","i":120,"volume":1.56,"debit":6.55},
      {"curve":"Courbe n°2","seg":"a","i":121,"volume":1.6,"debit":6.97},
      {"curve":"Courbe n°2","seg":"a","i":122,"volume":1.62,"debit":7.15},
      {"curve":"Courbe n°2","seg":"a","i":123,"volume":1.65,"debit":7.28},
      {"curve":"Courbe n°2","seg":"a","i":124,"volume":1.69,"debit":7.35},
      {"curve":"Courbe n°2","seg":"a","i":125,"volume":1.72,"debit":7.36},
      {"curve":"Courbe n°2","seg":"a","i":126,"volume":1.75,"debit":7.3},
      {"curve":"Courbe n°2","seg":"a","i":127,"volume":1.78,"debit":7.29},
      {"curve":"Courbe n°2","seg":"a","i":128,"volume":1.84,"debit":7.32},
      {"curve":"Courbe n°2","seg":"a","i":129,"volume":1.89,"debit":7.31},
      {"curve":"Courbe n°2","seg":"a","i":130,"volume":1.94,"debit":7.26},
      {"curve":"Courbe n°2","seg":"a","i":131,"volume":2.0,"debit":7.17},
      {"curve":"Courbe n°2","seg":"a","i":132,"volume":2.05,"debit":7.07},
      {"curve":"Courbe n°2","seg":"a","i":133,"volume":2.1,"debit":6.9},
      {"curve":"Courbe n°2","seg":"a","i":134,"volume":2.16,"debit":6.7},
      {"curve":"Courbe n°2","seg":"a","i":135,"volume":2.2,"debit":6.6},
      {"curve":"Courbe n°2","seg":"a","i":136,"volume":2.24,"debit":6.57},
      {"curve":"Courbe n°2","seg":"a","i":137,"volume":2.32,"debit":6.47},
      {"curve":"Courbe n°2","seg":"a","i":138,"volume":2.38,"debit":6.38},
      {"curve":"Courbe n°2","seg":"a","i":139,"volume":2.45,"debit":6.26},
      {"curve":"Courbe n°2","seg":"a","i":140,"volume":2.49,"debit":6.05},
      {"curve":"Courbe n°2","seg":"a","i":141,"volume":2.53,"debit":5.86},
      {"curve":"Courbe n°2","seg":"a","i":142,"volume":2.57,"debit":5.98},
      {"curve":"Courbe n°2","seg":"a","i":143,"volume":2.6,"debit":5.99},
      {"curve":"Courbe n°2","seg":"a","i":144,"volume":2.63,"debit":5.82},
      {"curve":"Courbe n°2","seg":"a","i":145,"volume":2.66,"debit":5.68},
      {"curve":"Courbe n°2","seg":"a","i":146,"volume":2.72,"debit":5.7},
      {"curve":"Courbe n°2","seg":"a","i":147,"volume":2.76,"debit":5.57},
      {"curve":"Courbe n°2","seg":"a","i":148,"volume":2.8,"debit":5.5},
      {"curve":"Courbe n°2","seg":"a","i":149,"volume":2.88,"debit":5.44},
      {"curve":"Courbe n°2","seg":"a","i":150,"volume":2.95,"debit":5.3},
      {"curve":"Courbe n°2","seg":"a","i":151,"volume":3.01,"debit":5.18},
      {"curve":"Courbe n°2","seg":"a","i":152,"volume":3.06,"debit":5.1},
      {"curve":"Courbe n°2","seg":"a","i":153,"volume":3.12,"debit":4.97},
      {"curve":"Courbe n°2","seg":"a","i":154,"volume":3.2,"debit":4.71},
      {"curve":"Courbe n°2","seg":"a","i":155,"volume":3.25,"debit":4.5},
      {"curve":"Courbe n°2","seg":"a","i":156,"volume":3.3,"debit":4.29},
      {"curve":"Courbe n°2","seg":"a","i":157,"volume":3.36,"debit":4.21},
      {"curve":"Courbe n°2","seg":"a","i":158,"volume":3.46,"debit":4.02},
      {"curve":"Courbe n°2","seg":"a","i":159,"volume":3.52,"debit":3.87},
      {"curve":"Courbe n°2","seg":"a","i":160,"volume":3.57,"debit":3.71},
      {"curve":"Courbe n°2","seg":"a","i":161,"volume":3.63,"debit":3.55},
      {"curve":"Courbe n°2","seg":"a","i":162,"volume":3.68,"debit":3.39},
      {"curve":"Courbe n°2","seg":"a","i":163,"volume":3.72,"debit":3.2},
      {"curve":"Courbe n°2","seg":"a","i":164,"volume":3.76,"debit":3.02},
      {"curve":"Courbe n°2","seg":"a","i":165,"volume":3.8,"debit":2.78},
      {"curve":"Courbe n°2","seg":"a","i":166,"volume":3.84,"debit":2.55},
      {"curve":"Courbe n°2","seg":"a","i":167,"volume":3.89,"debit":2.24},
      {"curve":"Courbe n°2","seg":"a","i":168,"volume":3.93,"debit":2.1},
      {"curve":"Courbe n°2","seg":"a","i":169,"volume":3.97,"debit":1.97},
      {"curve":"Courbe n°2","seg":"a","i":170,"volume":4.03,"debit":1.8},
      {"curve":"Courbe n°2","seg":"a","i":171,"volume":4.08,"debit":1.66},
      {"curve":"Courbe n°2","seg":"a","i":172,"volume":4.13,"debit":1.52},
      {"curve":"Courbe n°2","seg":"a","i":173,"volume":4.18,"debit":1.37},
      {"curve":"Courbe n°2","seg":"a","i":174,"volume":4.24,"debit":1.27},
      {"curve":"Courbe n°2","seg":"a","i":175,"volume":4.29,"debit":1.18},
      {"curve":"Courbe n°2","seg":"a","i":176,"volume":4.34,"debit":1.1},
      {"curve":"Courbe n°2","seg":"a","i":177,"volume":4.37,"debit":1.03},
      {"curve":"Courbe n°2","seg":"a","i":178,"volume":4.41,"debit":0.85},
      {"curve":"Courbe n°2","seg":"a","i":179,"volume":4.44,"debit":0.66},
      {"curve":"Courbe n°2","seg":"a","i":180,"volume":4.46,"debit":0.5},
      {"curve":"Courbe n°2","seg":"a","i":181,"volume":4.48,"debit":0.34},
      {"curve":"Courbe n°2","seg":"a","i":182,"volume":4.49,"debit":0.15},
      {"curve":"Courbe n°2","seg":"a","i":183,"volume":4.5,"debit":-0.03},
      {"curve":"Courbe n°2","seg":"a","i":184,"volume":4.49,"debit":-0.24},
      {"curve":"Courbe n°2","seg":"b","i":1,"volume":0.86,"debit":0.0},
      {"curve":"Courbe n°2","seg":"b","i":2,"volume":0.86,"debit":0.4},
      {"curve":"Courbe n°2","seg":"b","i":3,"volume":0.87,"debit":0.71},
      {"curve":"Courbe n°2","seg":"b","i":4,"volume":0.9,"debit":1.0},
      {"curve":"Courbe n°2","seg":"b","i":5,"volume":0.93,"debit":1.2},
      {"curve":"Courbe n°2","seg":"b","i":6,"volume":0.96,"debit":1.34},
      {"curve":"Courbe n°2","seg":"b","i":7,"volume":0.98,"debit":1.8},
      {"curve":"Courbe n°2","seg":"b","i":8,"volume":1.01,"debit":2.34},
      {"curve":"Courbe n°2","seg":"b","i":9,"volume":1.03,"debit":2.7},
      {"curve":"Courbe n°2","seg":"b","i":10,"volume":1.06,"debit":3.02},
      {"curve":"Courbe n°2","seg":"b","i":11,"volume":1.1,"debit":3.35},
      {"curve":"Courbe n°2","seg":"b","i":12,"volume":1.14,"debit":3.6},
      {"curve":"Courbe n°2","seg":"b","i":13,"volume":1.19,"debit":3.8},
      {"curve":"Courbe n°2","seg":"b","i":14,"volume":1.25,"debit":3.97},
      {"curve":"Courbe n°2","seg":"b","i":15,"volume":1.31,"debit":4.1},
      {"curve":"Courbe n°2","seg":"b","i":16,"volume":1.38,"debit":4.21},
      {"curve":"Courbe n°2","seg":"b","i":17,"volume":1.44,"debit":4.22},
      {"curve":"Courbe n°2","seg":"b","i":18,"volume":1.49,"debit":4.23},
      {"curve":"Courbe n°2","seg":"b","i":19,"volume":1.54,"debit":4.2},
      {"curve":"Courbe n°2","seg":"b","i":20,"volume":1.58,"debit":4.2},
      {"curve":"Courbe n°2","seg":"b","i":21,"volume":1.62,"debit":4.25},
      {"curve":"Courbe n°2","seg":"b","i":22,"volume":1.66,"debit":4.2},
      {"curve":"Courbe n°2","seg":"b","i":23,"volume":1.71,"debit":4.26},
      {"curve":"Courbe n°2","seg":"b","i":24,"volume":1.76,"debit":4.25},
      {"curve":"Courbe n°2","seg":"b","i":25,"volume":1.82,"debit":4.28},
      {"curve":"Courbe n°2","seg":"b","i":26,"volume":1.89,"debit":4.28},
      {"curve":"Courbe n°2","seg":"b","i":27,"volume":1.95,"debit":4.24},
      {"curve":"Courbe n°2","seg":"b","i":28,"volume":2.0,"debit":4.22},
      {"curve":"Courbe n°2","seg":"b","i":29,"volume":2.04,"debit":4.25},
      {"curve":"Courbe n°2","seg":"b","i":30,"volume":2.08,"debit":4.23},
      {"curve":"Courbe n°2","seg":"b","i":31,"volume":2.13,"debit":4.18},
      {"curve":"Courbe n°2","seg":"b","i":32,"volume":2.18,"debit":4.15},
      {"curve":"Courbe n°2","seg":"b","i":33,"volume":2.25,"debit":4.12},
      {"curve":"Courbe n°2","seg":"b","i":34,"volume":2.3,"debit":4.07},
      {"curve":"Courbe n°2","seg":"b","i":35,"volume":2.35,"debit":4.05},
      {"curve":"Courbe n°2","seg":"b","i":36,"volume":2.4,"debit":4.02},
      {"curve":"Courbe n°2","seg":"b","i":37,"volume":2.46,"debit":3.95},
      {"curve":"Courbe n°2","seg":"b","i":38,"volume":2.53,"debit":3.86},
      {"curve":"Courbe n°2","seg":"b","i":39,"volume":2.58,"debit":3.8},
      {"curve":"Courbe n°2","seg":"b","i":40,"volume":2.64,"debit":3.76},
      {"curve":"Courbe n°2","seg":"b","i":41,"volume":2.69,"debit":3.68},
      {"curve":"Courbe n°2","seg":"b","i":42,"volume":2.74,"debit":3.6},
      {"curve":"Courbe n°2","seg":"b","i":43,"volume":2.8,"debit":3.5},
      {"curve":"Courbe n°2","seg":"b","i":44,"volume":2.85,"debit":3.39},
      {"curve":"Courbe n°2","seg":"b","i":45,"volume":2.89,"debit":3.25},
      {"curve":"Courbe n°2","seg":"b","i":46,"volume":2.93,"debit":3.13},
      {"curve":"Courbe n°2","seg":"b","i":47,"volume":2.98,"debit":3.03},
      {"curve":"Courbe n°2","seg":"b","i":48,"volume":3.04,"debit":3.0},
      {"curve":"Courbe n°2","seg":"b","i":49,"volume":3.1,"debit":2.99},
      {"curve":"Courbe n°2","seg":"b","i":50,"volume":3.14,"debit":2.97},
      {"curve":"Courbe n°2","seg":"b","i":51,"volume":3.18,"debit":2.9},
      {"curve":"Courbe n°2","seg":"b","i":52,"volume":3.22,"debit":2.81},
      {"curve":"Courbe n°2","seg":"b","i":53,"volume":3.29,"debit":2.62},
      {"curve":"Courbe n°2","seg":"b","i":54,"volume":3.36,"debit":2.44},
      {"curve":"Courbe n°2","seg":"b","i":55,"volume":3.41,"debit":2.26},
      {"curve":"Courbe n°2","seg":"b","i":56,"volume":3.46,"debit":2.08},
      {"curve":"Courbe n°2","seg":"b","i":57,"volume":3.53,"debit":1.9},
      {"curve":"Courbe n°2","seg":"b","i":58,"volume":3.6,"debit":1.71},
      {"curve":"Courbe n°2","seg":"b","i":59,"volume":3.67,"debit":1.48},
      {"curve":"Courbe n°2","seg":"b","i":60,"volume":3.73,"debit":1.24},
      {"curve":"Courbe n°2","seg":"b","i":61,"volume":3.78,"debit":1.08},
      {"curve":"Courbe n°2","seg":"b","i":62,"volume":3.81,"debit":0.97},
      {"curve":"Courbe n°2","seg":"b","i":63,"volume":3.85,"debit":0.66},
      {"curve":"Courbe n°2","seg":"b","i":64,"volume":3.87,"debit":0.35},
      {"curve":"Courbe n°2","seg":"b","i":65,"volume":3.88,"debit":0.0},
      {"curve":"Courbe n°2","seg":"b","i":66,"volume":3.87,"debit":-0.2},
      {"curve":"Courbe n°2","seg":"b","i":67,"volume":3.86,"debit":-0.45},
      {"curve":"Courbe n°2","seg":"b","i":68,"volume":3.84,"debit":-0.76},
      {"curve":"Courbe n°2","seg":"b","i":69,"volume":3.81,"debit":-0.98},
      {"curve":"Courbe n°2","seg":"b","i":70,"volume":3.78,"debit":-1.18},
      {"curve":"Courbe n°2","seg":"b","i":71,"volume":3.74,"debit":-1.33},
      {"curve":"Courbe n°2","seg":"b","i":72,"volume":3.7,"debit":-1.45},
      {"curve":"Courbe n°2","seg":"b","i":73,"volume":3.62,"debit":-1.66},
      {"curve":"Courbe n°2","seg":"b","i":74,"volume":3.57,"debit":-1.78},
      {"curve":"Courbe n°2","seg":"b","i":75,"volume":3.52,"debit":-1.89},
      {"curve":"Courbe n°2","seg":"b","i":76,"volume":3.45,"debit":-1.97},
      {"curve":"Courbe n°2","seg":"b","i":77,"volume":3.41,"debit":-2.02},
      {"curve":"Courbe n°2","seg":"b","i":78,"volume":3.36,"debit":-2.08},
      {"curve":"Courbe n°2","seg":"b","i":79,"volume":3.3,"debit":-2.0},
      {"curve":"Courbe n°2","seg":"b","i":80,"volume":3.22,"debit":-2.03},
      {"curve":"Courbe n°2","seg":"b","i":81,"volume":3.14,"debit":-2.02},
      {"curve":"Courbe n°2","seg":"b","i":82,"volume":3.06,"debit":-2.05},
      {"curve":"Courbe n°2","seg":"b","i":83,"volume":2.98,"debit":-2.08},
      {"curve":"Courbe n°2","seg":"b","i":84,"volume":2.9,"debit":-2.1},
      {"curve":"Courbe n°2","seg":"b","i":85,"volume":2.82,"debit":-2.16},
      {"curve":"Courbe n°2","seg":"b","i":86,"volume":2.72,"debit":-2.18},
      {"curve":"Courbe n°2","seg":"b","i":87,"volume":2.64,"debit":-2.24},
      {"curve":"Courbe n°2","seg":"b","i":88,"volume":2.6,"debit":-2.32},
      {"curve":"Courbe n°2","seg":"b","i":89,"volume":2.56,"debit":-2.39},
      {"curve":"Courbe n°2","seg":"b","i":90,"volume":2.48,"debit":-2.47},
      {"curve":"Courbe n°2","seg":"b","i":91,"volume":2.4,"debit":-2.5},
      {"curve":"Courbe n°2","seg":"b","i":92,"volume":2.34,"debit":-2.44},
      {"curve":"Courbe n°2","seg":"b","i":93,"volume":2.29,"debit":-2.39},
      {"curve":"Courbe n°2","seg":"b","i":94,"volume":2.18,"debit":-2.31},
      {"curve":"Courbe n°2","seg":"b","i":95,"volume":2.08,"debit":-2.24},
      {"curve":"Courbe n°2","seg":"b","i":96,"volume":1.97,"debit":-2.13},
      {"curve":"Courbe n°2","seg":"b","i":97,"volume":1.86,"debit":-2.02},
      {"curve":"Courbe n°2","seg":"b","i":98,"volume":1.76,"debit":-1.92},
      {"curve":"Courbe n°2","seg":"b","i":99,"volume":1.65,"debit":-1.87},
      {"curve":"Courbe n°2","seg":"b","i":100,"volume":1.54,"debit":-1.79},
      {"curve":"Courbe n°2","seg":"b","i":101,"volume":1.44,"debit":-1.68},
      {"curve":"Courbe n°2","seg":"b","i":102,"volume":1.36,"debit":-1.55},
      {"curve":"Courbe n°2","seg":"b","i":103,"volume":1.28,"debit":-1.42},
      {"curve":"Courbe n°2","seg":"b","i":104,"volume":1.22,"debit":-1.58},
      {"curve":"Courbe n°2","seg":"b","i":105,"volume":1.17,"debit":-1.45},
      {"curve":"Courbe n°2","seg":"b","i":106,"volume":1.14,"debit":-1.29},
      {"curve":"Courbe n°2","seg":"b","i":107,"volume":1.09,"debit":-0.97},
      {"curve":"Courbe n°2","seg":"b","i":108,"volume":1.05,"debit":-0.8},
      {"curve":"Courbe n°2","seg":"b","i":109,"volume":1.01,"debit":-0.66},
      {"curve":"Courbe n°2","seg":"b","i":110,"volume":0.96,"debit":-0.5},
      {"curve":"Courbe n°2","seg":"b","i":111,"volume":0.92,"debit":-0.32},
      {"curve":"Courbe n°2","seg":"b","i":112,"volume":0.89,"debit":-0.28},
      {"curve":"Courbe n°2","seg":"b","i":113,"volume":0.88,"debit":-0.24},
      {"curve":"Courbe n°2","seg":"b","i":114,"volume":0.86,"debit":0.0}
    ]
  },
  "layer": [
    {
      "data": {"name": "courbe1"},
      "mark": {"type": "line", "strokeWidth": 2.8, "strokeJoin": "round", "strokeCap": "round"},
      "encoding": {
        "x": {
          "field": "volume", "type": "quantitative",
          "scale": {"domain": [0, 5], "nice": false, "zero": false},
          "axis": {
            "orient": "bottom", "offset": -201, "values": [0, 1, 2, 3, 4, 5],
            "domain": false, "tickSize": 22, "tickWidth": 1.5, "tickColor": "#333333",
            "grid": true, "gridDash": [6, 4], "gridColor": "#9a9a9a", "gridWidth": 1.4,
            "labelExpr": "datum.value >= 5 ? '' : '' + datum.value",
            "labelFont": "Open Sans", "labelFontStyle": "italic", "labelFontSize": 15, "labelColor": "#333333",
            "labelAlign": "right", "labelDx": -2, "labelBaseline": "top", "labelPadding": 5,
            "labelFlush": false, "labelOverlap": false,
            "title": "Volume (L)", "titleX": 615, "titleY": 44, "titleAlign": "left", "titleBaseline": "middle",
            "titleFont": "Open Sans", "titleFontStyle": "italic", "titleFontWeight": "normal", "titleFontSize": 17, "titleColor": "#555555",
            "zindex": 0
          }
        },
        "y": {
          "field": "debit", "type": "quantitative",
          "scale": {"domain": [-3, 8], "nice": false, "zero": false},
          "axis": {
            "orient": "left", "offset": -11, "values": [-3, -2, -1, 0, 1, 2, 3, 4, 5, 6, 7, 8],
            "domain": false, "tickSize": 22, "tickWidth": 2, "tickColor": "#333333",
            "grid": true, "gridDash": [6, 4], "gridColor": "#9a9a9a", "gridWidth": 1.4,
            "labelExpr": "datum.value >= 8 ? '' : '' + datum.value",
            "labelFont": "Open Sans", "labelFontStyle": "italic", "labelFontSize": 15, "labelColor": "#333333",
            "labelAlign": "left", "labelBaseline": "middle", "labelPadding": 27,
            "labelFlush": false, "labelOverlap": false,
            "title": "Débit (L/s)", "titleAngle": 0, "titleX": -8, "titleY": -39, "titleAlign": "left", "titleBaseline": "middle",
            "titleFont": "Open Sans", "titleFontStyle": "italic", "titleFontWeight": "normal", "titleFontSize": 17, "titleColor": "#555555",
            "zindex": 0
          }
        },
        "color": {
          "field": "curve", "type": "nominal",
          "scale": {"domain": ["Courbe n°1", "Courbe n°2"], "range": ["#cdaaeb", "#1d6b1d"]},
          "legend": {
            "orient": "none", "legendX": 425, "legendY": -40, "title": null, "direction": "vertical",
            "padding": 6, "fillColor": "#ffffff", "strokeColor": "#d9d9d9",
            "symbolType": "M -1 0.35 C -0.75 -0.75 -0.4 -0.75 -0.05 0.05 C 0.3 0.85 0.7 0.8 1 -0.3",
            "symbolSize": 1600, "symbolStrokeWidth": 2, "symbolOffset": 10, "symbolFillColor": "transparent",
            "labelFont": "Open Sans, DejaVu Sans", "labelFontSize": 22, "labelColor": "#7a7a7a", "labelOffset": 10, "labelLimit": 400,
            "rowPadding": 5,
            "labelExpr": "datum.value == 'Courbe n°2' ? ['', datum.label + '    ★ ', ''] : ['', datum.label, '']",
            "encode": {
              "symbols": {"update": {
                "stroke": [{"test": "datum.index === 0", "value": "#a552df"}, {"value": "#1f7a1f"}],
                "strokeWidth": {"value": 2.2},
                "y": {"value": 32}
              }},
              "labels": {"update": {
                "dx": [{"test": "datum.index === 0", "value": 15}, {"value": 0}],
                "y": {"value": 11},
                "lineHeight": {"value": 21}
              }},
              "entries": {"update": {
                "fill": [{"test": "datum.index === 1", "value": "#bebebe"}, {"value": "transparent"}],
                "stroke": [{"test": "datum.index === 1", "value": "#808080"}, {"value": "transparent"}],
                "strokeWidth": {"value": 2}
              }}
            }
          }
        },
        "detail": {"field": "seg"},
        "order": {"field": "i", "type": "quantitative"}
      }
    },
    {
      "data": {"name": "courbe2"},
      "mark": {"type": "line", "strokeWidth": 3, "strokeJoin": "round", "strokeCap": "round"},
      "encoding": {
        "x": {"field": "volume", "type": "quantitative"},
        "y": {"field": "debit", "type": "quantitative"},
        "color": {"field": "curve", "type": "nominal"},
        "detail": {"field": "seg"},
        "order": {"field": "i", "type": "quantitative"}
      }
    },
    {
      "data": {"values": [{}]},
      "mark": {"type": "rule", "color": "#000000", "strokeWidth": 2},
      "encoding": {"x": {"datum": 0}, "x2": {"datum": 5}, "y": {"datum": 0}}
    },
    {
      "data": {"values": [{}]},
      "mark": {"type": "rule", "color": "#000000", "strokeWidth": 2},
      "encoding": {"x": {"datum": 0}, "y": {"datum": -3}, "y2": {"datum": 8}}
    },
    {
      "data": {"values": [{}]},
      "mark": {"type": "point", "shape": "M -1 0 L 0 -1 L 1 0 Z", "size": 1296, "filled": true, "color": "#000000", "opacity": 1},
      "encoding": {"x": {"datum": 0}, "y": {"datum": 8}}
    },
    {
      "data": {"values": [{}]},
      "mark": {"type": "point", "shape": "M 0 -1 L 1 0 L 0 1 Z", "size": 1296, "filled": true, "color": "#000000", "opacity": 1},
      "encoding": {"x": {"datum": 5}, "y": {"datum": 0}}
    }
  ]
}
